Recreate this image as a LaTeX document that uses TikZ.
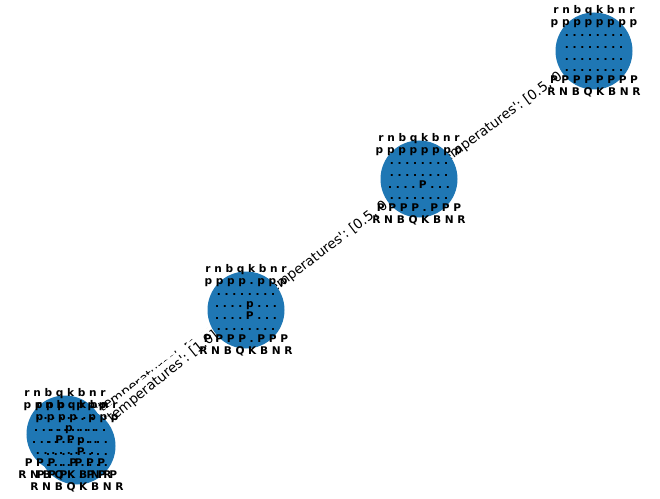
\documentclass[tikz,border=0pt]{standalone}
\usepackage{fontspec}
\newfontfamily\plotfont{DejaVu Sans}
\definecolor{nodeblue}{HTML}{1F77B4}
\pgfdeclarelayer{edges}
\pgfsetlayers{edges,main}
\begin{document}
\begin{tikzpicture}[x=1bp, y=-1bp,
  state/.style={circle, fill=nodeblue, draw=none, minimum size=77bp, inner sep=0pt},
  board/.style={align=center, inner sep=0pt,
    font=\plotfont\bfseries\fontsize{10.6bp}{11.7bp}\selectfont\frenchspacing},
  link/.style={black, line width=1bp},
  elabel/.style={sloped, midway, fill=white, rounded corners=4bp, inner sep=4bp,
    font=\plotfont\fontsize{13.6bp}{16bp}\selectfont\frenchspacing}]
\useasboundingbox (0,0) rectangle (660,499);

% positions
\node[state] (s0) at (594,51) {};
\node[state] (s1) at (419,179) {};
\node[state] (s2) at (246,310) {};
\node[state] (s3) at (65,434) {};
\node[state] (s4) at (77,446) {};

% edges and their labels, beneath the nodes
\begin{pgfonlayer}{edges}
  \draw[link] (s1) -- (s0);
  \draw[link] (s2) -- (s1);
  \draw[link] (s2) -- (s3);
  \draw[link] (s2) -- (s4);
  \path (s1) -- node[elabel] {\{'temperatures': [0.5, 0.5]\}} (s0);
  \path (s2) -- node[elabel] {\{'temperatures': [0.5, 0.5]\}} (s1);
  \path (s2) -- node[elabel] {\{'temperatures': [1.0]\}} (s3);
  \path (s2) -- node[elabel] {\{'temperatures': [1.0]\}} (s4);
\end{pgfonlayer}

% board texts on top
\node[board] (b0) at (s0) {r n b q k b n r\\p p p p p p p p\\. . . . . . . .\\. . . . . . . .\\. . . . . . . .\\. . . . . . . .\\P P P P P P P P\\R N B Q K B N R};
\node[board] (b1) at (s1) {r n b q k b n r\\p p p p p p p p\\. . . . . . . .\\. . . . . . . .\\. . . . P . . .\\. . . . . . . .\\P P P P . P P P\\R N B Q K B N R};
\node[board] (b2) at (s2) {r n b q k b n r\\p p p p . p p p\\. . . . . . . .\\. . . . p . . .\\. . . . P . . .\\. . . . . . . .\\P P P P . P P P\\R N B Q K B N R};
\node[board] (b3) at (s3) {r n b q k b n r\\p p p p . p p p\\. . . . . . . .\\. . . . p . . .\\. . . P P . . .\\. . . . . . . .\\P P P . . P P P\\R N B Q K B N R};
\node[board] (b4) at (s4) {r n b q k b n r\\p p p p . p p p\\. . . . . . . .\\. . . . p . . .\\. . . . P . . .\\. . . P . . . .\\P P P . . P P P\\R N B Q K B N R};
\end{tikzpicture}
\end{document}
